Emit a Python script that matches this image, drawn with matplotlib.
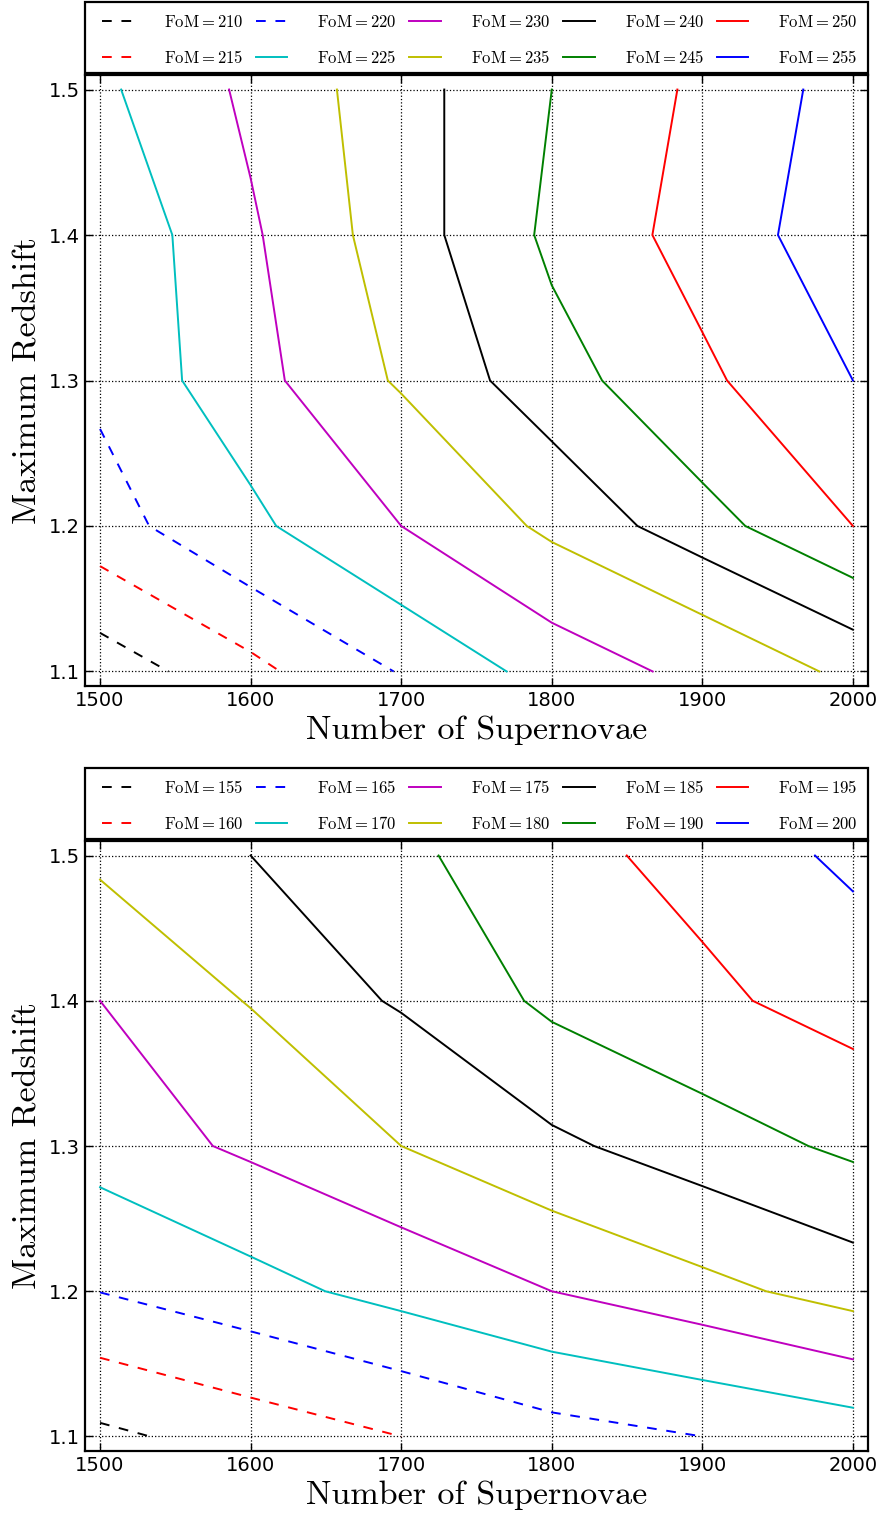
import numpy as np
import matplotlib
matplotlib.use('Agg')
import matplotlib.pyplot as plt
from matplotlib.patches import Rectangle

plt.rcParams['mathtext.fontset'] = 'cm'

# upper panel, FoM contours (number of SNe vs max redshift)
topFoM = [210, 215, 220, 225, 230, 235, 240, 245, 250, 255]
topNumber = [
    [1500, 1545.4],
    [1500, 1600, 1619.6],
    [1500, 1532.6, 1600, 1695],
    [1514, 1548, 1554.5, 1600, 1617, 1700, 1770],
    [1585.7, 1600, 1608, 1622.7, 1700, 1800, 1867],
    [1657.3, 1667.9, 1691.1, 1700, 1783.4, 1800, 1900, 1977.7],
    [1728.6, 1728.6, 1759, 1800, 1856.9, 1900, 2000],
    [1800, 1788.3, 1800, 1833.4, 1900, 1928.5, 2000],
    [1883.4, 1866.8, 1900, 1916.4, 2000],
    [1967, 1950.2, 2000],
]
topRedshift = [
    [1.1265, 1.1],
    [1.1724, 1.1134, 1.1],
    [1.2667, 1.2, 1.158, 1.1],
    [1.5, 1.4, 1.3, 1.228, 1.2, 1.1458, 1.1],
    [1.5, 1.439, 1.4, 1.3, 1.2, 1.1335, 1.1],
    [1.5, 1.4, 1.3, 1.291, 1.2, 1.189, 1.1389, 1.1],
    [1.5, 1.4, 1.3, 1.2582, 1.2, 1.1783, 1.1287],
    [1.5, 1.4, 1.3654, 1.3, 1.2298, 1.2, 1.1643],
    [1.5, 1.4, 1.3332, 1.3, 1.2],
    [1.5, 1.4, 1.3],
]

# lower panel
botFoM = [155, 160, 165, 170, 175, 180, 185, 190, 195, 200]
botNumber = [
    [1500, 1533.2],
    [1500, 1600, 1700],
    [1500, 1600, 1700, 1800, 1900],
    [1500, 1600, 1649.5, 1700, 1800, 1900, 2000],
    [1500, 1574.9, 1600, 1700, 1800, 1900, 2000],
    [1500, 1594.1, 1600, 1700, 1800, 1900, 1942.3, 2000],
    [1600, 1687.2, 1700, 1800, 1828.1, 1900, 2000],
    [1724.8, 1781.6, 1800, 1900, 1970.4, 2000],
    [1849.8, 1900, 1933.4, 2000],
    [1974.8, 2000],
]
botRedshift = [
    [1.1094, 1.1],
    [1.1542, 1.1268, 1.1],
    [1.1992, 1.1724, 1.145, 1.1166, 1.1],
    [1.2716, 1.2239, 1.2, 1.1863, 1.1584, 1.1389, 1.1198],
    [1.4, 1.3, 1.289, 1.244, 1.2, 1.1769, 1.1531],
    [1.4834, 1.4, 1.3949, 1.3, 1.2555, 1.2166, 1.2, 1.1863],
    [1.5, 1.4, 1.3917, 1.3145, 1.3, 1.2724, 1.2335],
    [1.5, 1.4, 1.3855, 1.3359, 1.3, 1.289],
    [1.5, 1.4405, 1.4, 1.3668],
    [1.5, 1.4753],
]

lineColors = ['k', 'r', 'b', 'c', 'm', 'y', 'k', 'g', 'r', 'b']
lineDashed = [True, True, True, False, False, False, False, False, False, False]
xTicks = [1500, 1600, 1700, 1800, 1900, 2000]
yTicks = [1.1, 1.2, 1.3, 1.4, 1.5]


def plotPanel(ax, FoM, Number, Redshift):
    for i in range(len(FoM)):
        ls = (0, (5, 5)) if lineDashed[i] else '-'
        ax.plot(Number[i], Redshift[i], color=lineColors[i], ls=ls, lw=1.4,
                label=r'$\mathrm{FoM}=%d$' % FoM[i])
    ax.set_xlim(1490, 2010)
    ax.set_ylim(1.09, 1.51)
    ax.set_xticks(xTicks)
    ax.set_yticks(yTicks)
    ax.grid(True, color='k', ls=':', lw=0.9)
    ax.tick_params(direction='in', top=True, right=True, length=6, width=1,
                   labelsize=14)
    for sp in ax.spines.values():
        sp.set_linewidth(1.6)
    ax.set_xlabel('Number of Supernovae', fontfamily='cmr10', fontsize=24.5,
                  labelpad=4)
    ax.set_ylabel('Maximum Redshift', fontfamily='cmr10', fontsize=24.5,
                  labelpad=4.5)
    # legend box drawn by hand so the entries can sit freely inside it
    ax.add_patch(Rectangle((0, 1.0033), 1, 0.1162, transform=ax.transAxes,
                           fill=False, lw=1.6, ec='k', clip_on=False))
    ax.legend(bbox_to_anchor=(0.009, 0.997, 0.991, 0.1), loc='lower left',
              ncol=5, mode='expand', borderaxespad=0., fontsize=12,
              handlelength=1.9, handletextpad=1.8, labelspacing=1.09,
              borderpad=0.6, frameon=False)


fig = plt.figure(figsize=(8.84, 15.18), dpi=100)
axTop = fig.add_axes([85/884., 1-686/1518., 783/884., 611/1518.])
axBot = fig.add_axes([85/884., 1-1451/1518., 783/884., 610/1518.])
plotPanel(axTop, topFoM, topNumber, topRedshift)
plotPanel(axBot, botFoM, botNumber, botRedshift)
plt.savefig('out.png', dpi=100)
